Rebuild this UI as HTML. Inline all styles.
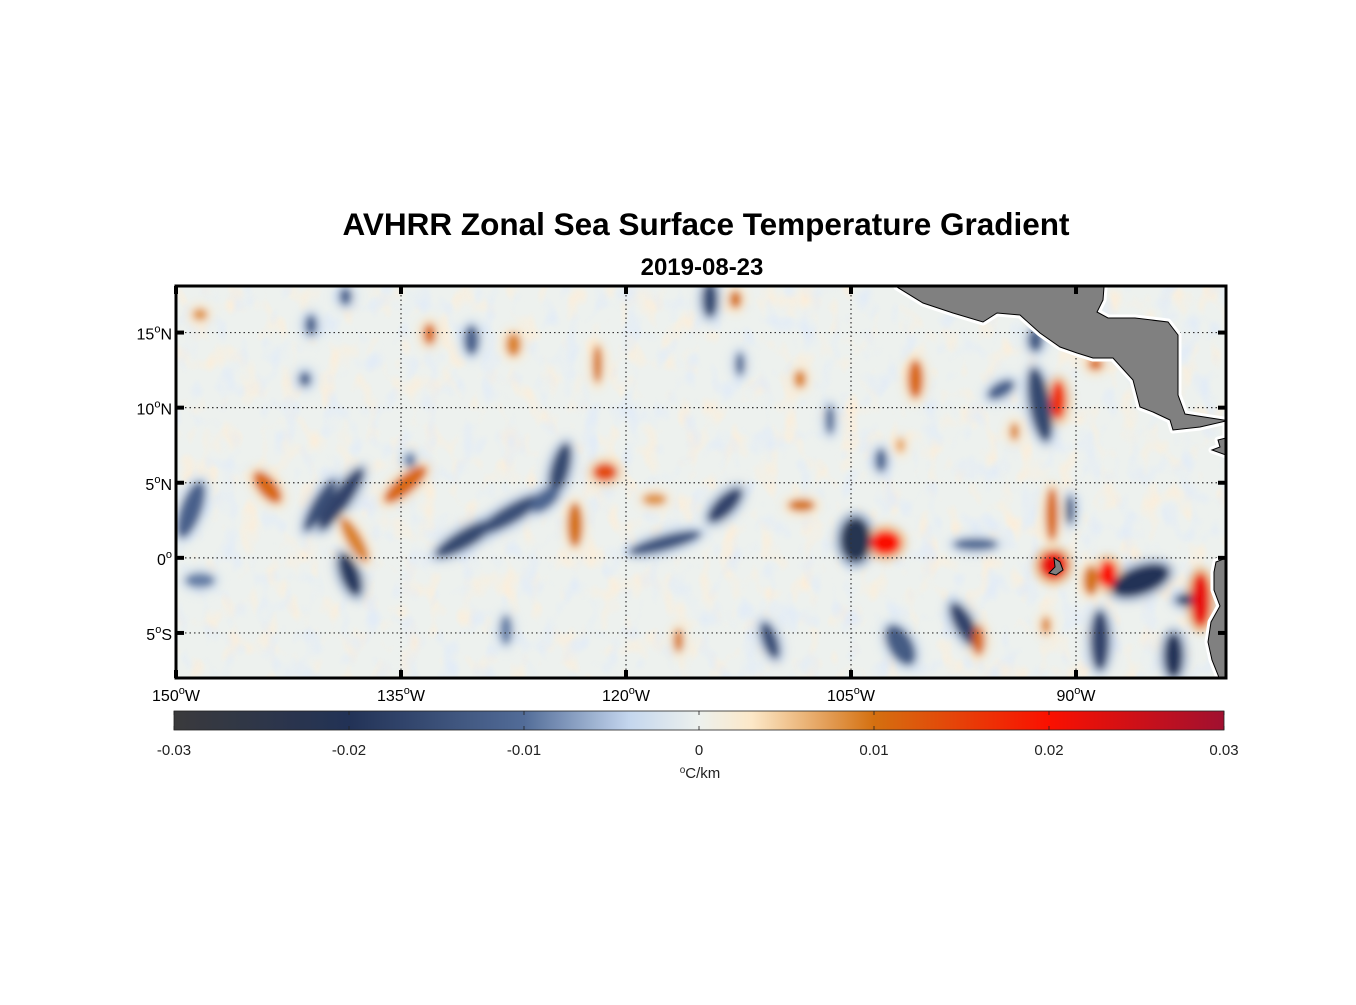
<!DOCTYPE html>
<html><head><meta charset="utf-8"><style>
body{margin:0;background:#fff;width:1356px;height:1000px;overflow:hidden;font-family:"Liberation Sans",sans-serif}
</style></head><body>
<svg id="chart" width="1356" height="1000" xmlns="http://www.w3.org/2000/svg" font-family="Liberation Sans, sans-serif">
<defs>
<clipPath id="mapclip"><rect x="176" y="286" width="1050" height="392"/></clipPath>
<filter id="blur" x="-50%" y="-50%" width="200%" height="200%"><feGaussianBlur stdDeviation="4"/></filter>
<filter id="texO" x="0" y="0" width="100%" height="100%">
<feTurbulence type="fractalNoise" baseFrequency="0.05 0.035" numOctaves="2" seed="3" result="n"/>
<feColorMatrix in="n" type="matrix" values="0 0 0 0 0.99  0 0 0 0 0.85  0 0 0 0 0.68  3 0 0 0 -1.55"/>
</filter>
<filter id="texB" x="0" y="0" width="100%" height="100%">
<feTurbulence type="fractalNoise" baseFrequency="0.05 0.035" numOctaves="2" seed="11" result="n"/>
<feColorMatrix in="n" type="matrix" values="0 0 0 0 0.75  0 0 0 0 0.83  0 0 0 0 0.94  3 0 0 0 -1.55"/>
</filter>
<linearGradient id="cbgrad" x1="0" x2="1" y1="0" y2="0"></linearGradient>
</defs>
<text x="706" y="235" text-anchor="middle" font-size="31.5" font-weight="bold">AVHRR Zonal Sea Surface Temperature Gradient</text>
<text x="702" y="275" text-anchor="middle" font-size="24" font-weight="bold">2019-08-23</text>
<g id="map" clip-path="url(#mapclip)">
<rect x="176" y="286" width="1050" height="392" fill="#edf1ee"/>
<rect x="176" y="286" width="1050" height="392" filter="url(#texO)" opacity="0.8"/>
<rect x="176" y="286" width="1050" height="392" filter="url(#texB)" opacity="0.8"/>
<g id="field" filter="url(#blur)"></g>
<g id="grid"></g>
<g id="land"></g>
</g>
<g id="axes"></g>
<g id="colorbar"></g>
</svg>
<script>
// data: blobs [lon, lat, rxDeg, ryDeg, angleDeg, value °C/km]
const blobLon = [-130.7,-127.7,-124.4,-125.4,-117.4,-113.4,-104.7,-140.4,-139,-138.4,-149,-85.7,-97.4,-83.5,-88.4,-110.4,-92.4,-90.4,-92.7,-114.4,-130.3,-138.7,-141,-141.4,-96.7,-101.7,-82.4,-106.4,-112.4,-128,-103,-134.4,-148.4,-95,
 -143.9,-134.7,-138.1,-123.4,-121.4,-102.7,-91.5,-91.6,-91.2,-87.9,-81.7,-100.7,-108.4,-133.1,-127.5,-121.9,-112.7,-96.5,-116.5,-108.3,-118.1,-148.4,-92,-94.1,-101.7,-89,-88.7];
const blobLat = [1.3,2.9,5.9,3.9,1,3.5,1.2,3.5,3.9,-1.1,3.2,-1.5,-4.5,-6.5,-5.5,-5.5,10.2,3.2,14.5,17.2,14.5,17.4,15.5,11.9,0.9,-5.8,-2.8,9.2,12.9,-4.8,6.5,6.5,-1.5,11.2,
 4.7,4.9,1.2,2.2,5.7,1,-0.5,2.9,10.5,-1.1,-2.8,11.9,11.9,14.9,14.2,12.9,17.2,-5.5,-5.5,3.5,3.9,16.2,-4.5,8.4,7.5,-1.5,12.9];
const blobRx = [2.3,2.5,0.6,1.2,2.5,1.5,1,0.5,0.6,0.6,0.7,2,0.6,0.6,0.6,0.5,0.7,0.3,0.5,0.5,0.5,0.4,0.4,0.4,1.5,0.8,1,0.3,0.3,0.4,0.4,0.4,1,1,
 0.6,0.6,0.5,0.5,0.8,1,0.9,0.4,0.5,0.6,0.6,0.5,0.4,0.4,0.5,0.3,0.4,0.4,0.3,0.9,0.8,0.5,0.3,0.3,0.3,0.5,0.5];
const blobRy = [0.6,0.6,1.8,0.6,0.5,0.6,1.5,2,2.5,1.5,2,0.9,1.7,1.5,2,1.3,2.5,1,0.8,1.2,1,0.6,0.7,0.5,0.4,1.5,0.4,1,0.8,1,0.8,0.5,0.5,0.5,
 1.3,1.8,1.7,1.5,0.6,0.8,0.9,1.8,1.3,0.9,1.8,1.3,0.6,0.7,0.8,1.3,0.6,1,0.8,0.4,0.4,0.4,0.6,0.6,0.5,1,0.4];
const blobAng = [-30,-30,15,-40,-15,-45,0,30,35,-20,20,-20,-30,0,0,-20,-10,0,0,0,0,0,0,0,0,-30,0,0,0,0,0,0,0,-30,
 -40,50,-30,0,0,0,0,0,0,0,0,0,0,0,0,0,0,0,0,0,0,0,0,0,0,0,0];
const blobVal = [-0.016,-0.015,-0.016,-0.011,-0.014,-0.017,-0.022,-0.015,-0.017,-0.019,-0.012,-0.02,-0.017,-0.02,-0.017,-0.015,-0.016,-0.013,-0.013,-0.016,-0.012,-0.012,-0.012,-0.012,-0.011,-0.013,-0.016,-0.011,-0.011,-0.009,-0.011,-0.009,-0.009,-0.012,
 0.011,0.011,0.009,0.01,0.014,0.02,0.022,0.011,0.017,0.02,0.022,0.011,0.009,0.011,0.009,0.01,0.01,0.011,0.01,0.01,0.008,0.008,0.009,0.009,0.007,0.01,0.011];
const cbTicks = [-0.03,-0.02,-0.01,0,0.01,0.02,0.03];
const cbTickLabels = ['-0.03','-0.02','-0.01','0','0.01','0.02','0.03'];
const latTicks = [15,10,5,0,-5];
const latLabels = ['15','10','5','0','5'];
const latSuffix = ['N','N','N','','S'];
const lonTicks = [-150,-135,-120,-105,-90];
const lonLabels = ['150','135','120','105','90'];

const NS='http://www.w3.org/2000/svg';
const X0=176,X1=1226,Y0=286,Y1=678,LON0=-150,LON1=-80,LAT0=18.1,LAT1=-8;
const xS=lon=>X0+(lon-LON0)/(LON1-LON0)*(X1-X0);
const yS=lat=>Y0+(lat-LAT0)/(LAT1-LAT0)*(Y1-Y0);
const pxDeg=(X1-X0)/(LON1-LON0);
const cmap=[[-0.03,[58,58,60]],[-0.02,[34,50,86]],[-0.01,[82,108,152]],[-0.004,[196,214,238]],[0,[237,241,238]],[0.003,[252,232,200]],[0.01,[212,112,16]],[0.02,[250,16,0]],[0.03,[160,16,48]]];
function color(v){v=Math.max(-0.03,Math.min(0.03,v));for(let i=0;i<cmap.length-1;i++){const a=cmap[i],b=cmap[i+1];if(v<=b[0]){const t=(v-a[0])/(b[0]-a[0]);const c=a[1].map((q,k)=>Math.round(q+(b[1][k]-q)*t));return `rgb(${c.join(',')})`;}}return 'rgb(160,16,48)';}
function mk(tag,attrs,parent){const e=document.createElementNS(NS,tag);for(const k in attrs)e.setAttribute(k,attrs[k]);parent.appendChild(e);return e;}

const field=document.getElementById('field');
for(let i=0;i<blobLon.length;i++){
  const cx=xS(blobLon[i]),cy=yS(blobLat[i]);
  const h=mk('ellipse',{cx:cx,cy:cy,rx:blobRx[i]*pxDeg+7,ry:blobRy[i]*pxDeg+7,transform:`rotate(${blobAng[i]} ${cx} ${cy})`,fill:color(blobVal[i]*0.3),opacity:0.6},field);
  
  
}
for(let i=0;i<blobLon.length;i++){
  const cx=xS(blobLon[i]),cy=yS(blobLat[i]);
  const e=mk('ellipse',{cx:cx,cy:cy,rx:blobRx[i]*pxDeg,ry:blobRy[i]*pxDeg,transform:`rotate(${blobAng[i]} ${cx} ${cy})`,fill:color(blobVal[i])},field);
  
  
}
// grid
const grid=document.getElementById('grid');
latTicks.forEach(l=>{const g=mk('line',{x1:X0,x2:X1,y1:yS(l),y2:yS(l),stroke:'#333','stroke-width':1.2,'stroke-dasharray':'1.5 3'},grid);});
lonTicks.slice(1).forEach(l=>{const g=mk('line',{x1:xS(l),x2:xS(l),y1:Y0,y2:Y1,stroke:'#333','stroke-width':1.2,'stroke-dasharray':'1.5 3'},grid);});
// land
const land=document.getElementById('land');
const ca="897,287 923,303 953,313 983,322 997,313 1020,315 1040,333 1060,347 1077,353 1093,358 1113,358 1133,380 1140,407 1153,412 1170,420 1173,430 1200,427 1226,421 1226,438 1218,440 1220,447 1212,450 1226,455 1230,455 1230,421 1185,414 1178,395 1178,335 1168,322 1135,318 1108,318 1097,312 1103,300 1104,287";
const sa="1216,562 1226,558 1230,558 1230,680 1220,680 1212,660 1208,642 1211,622 1220,606 1214,590 1214,572";
[ca,sa].forEach((p,i)=>{
  const w=mk('polygon',{points:p,fill:'#fff',stroke:'#fff','stroke-width':7,'stroke-linejoin':'round'},land);
  
});
[ca,sa].forEach((p,i)=>{
  const g=mk('polygon',{points:p,fill:'#808080',stroke:'#000','stroke-width':1},land);
  
});
const isl=mk('polygon',{points:'1054,558 1060,562 1063,570 1056,575 1049,573 1055,567',fill:'#808080',stroke:'#000','stroke-width':1},land);

// axes
const axes=document.getElementById('axes');
const fr=mk('rect',{x:X0,y:Y0,width:X1-X0,height:Y1-Y0,fill:'none',stroke:'#000','stroke-width':3},axes);

latTicks.forEach((l,i)=>{
  const y=yS(l);
  mk('line',{x1:X0,x2:X0+8,y1:y,y2:y,stroke:'#000','stroke-width':4},axes);
  mk('line',{x1:X1-8,x2:X1,y1:y,y2:y,stroke:'#000','stroke-width':4},axes);
  const t=mk('text',{x:172,y:y+7,'text-anchor':'end','font-size':16},axes);
  
  t.innerHTML=latLabels[i]+'<tspan dy="-7" font-size="11">o</tspan><tspan dy="7">'+latSuffix[i]+'</tspan>';
});
lonTicks.forEach((l,i)=>{
  const x=xS(l);
  mk('line',{x1:x,x2:x,y1:Y0,y2:Y0+8,stroke:'#000','stroke-width':4},axes);
  mk('line',{x1:x,x2:x,y1:Y1-8,y2:Y1,stroke:'#000','stroke-width':4},axes);
  const t=mk('text',{x:x,y:701,'text-anchor':'middle','font-size':16},axes);
  
  t.innerHTML=lonLabels[i]+'<tspan dy="-7" font-size="11">o</tspan><tspan dy="7">W</tspan>';
});
// colorbar
const grad=document.getElementById('cbgrad');
for(let k=0;k<=60;k++){const v=-0.03+k*0.001;mk('stop',{offset:(k/60),'stop-color':color(v)},grad);}
const cb=document.getElementById('colorbar');
const CX0=174,CX1=1224,CY0=711,CY1=730;
const cbx=v=>CX0+(v+0.03)/0.06*(CX1-CX0);
const r=mk('rect',{x:CX0,y:CY0,width:CX1-CX0,height:CY1-CY0,fill:'url(#cbgrad)',stroke:'#222','stroke-width':0.8},cb);

cbTicks.forEach((v,i)=>{
  const x=cbx(v);
  mk('line',{x1:x,x2:x,y1:CY0,y2:CY0+4,stroke:'#222','stroke-width':0.8},cb);
  mk('line',{x1:x,x2:x,y1:CY1-4,y2:CY1,stroke:'#222','stroke-width':0.8},cb);
  const t=mk('text',{x:x,y:755,'text-anchor':'middle','font-size':15,fill:'#222'},cb);
  
  t.textContent=cbTickLabels[i];
});
const u=mk('text',{x:700,y:778,'text-anchor':'middle','font-size':15,fill:'#222'},cb);

u.innerHTML='<tspan dy="-5" font-size="10">o</tspan><tspan dy="5">C/km</tspan>';
</script>
</body></html>
